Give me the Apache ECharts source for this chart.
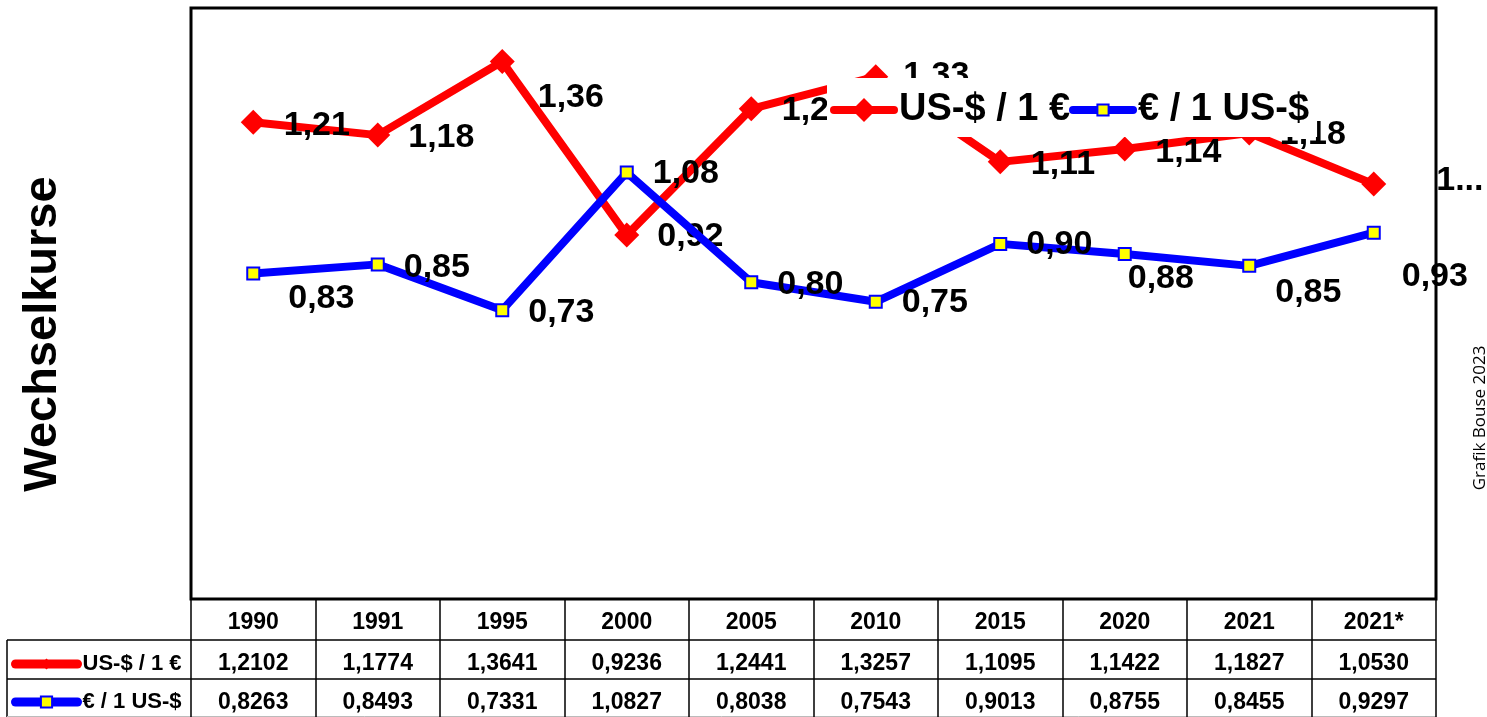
<!DOCTYPE html>
<html>
<head>
<meta charset="utf-8">
<script src="https://cdn.jsdelivr.net/npm/echarts@6/dist/echarts.min.js"></script>
<style>
html,body{margin:0;padding:0;background:#fff;}
#chart{width:1487px;height:717px;}
</style>
</head>
<body>
<div id="chart"></div>
<script>
// ---- data ----
const years = ['1990', '1991', '1995', '2000', '2005', '2010', '2015', '2020', '2021', '2021*'];
const usdPerEur = [1.2102, 1.1774, 1.3641, 0.9236, 1.2441, 1.3257, 1.1095, 1.1422, 1.1827, 1.0530];
const eurPerUsd = [0.8263, 0.8493, 0.7331, 1.0827, 0.8038, 0.7543, 0.9013, 0.8755, 0.8455, 0.9297];
const seriesNames = ['US-$ / 1 €', '€ / 1 US-$'];

// ---- label nudges (styling only) ----
const redNudge = [[0,3],[0,3],[5,36],[0,2],[0,2],[-3,-1],[0,3],[0,4],[0,2],[32,-3]];
const blueNudge = [[9,25],[0,3],[0,2],[0,1],[0,2],[0,1],[0,1],[-23,25],[0,27],[2,44]];

const FONT = '"Liberation Sans", Arial, sans-serif';
const fmt2 = v => v.toFixed(2).replace('.', ',');
const fmt4 = v => v.toFixed(4).replace('.', ',');

const chart = echarts.init(document.getElementById('chart'));

const redData = usdPerEur.map((v, i) => {
  const item = { value: v, label: { offset: redNudge[i] } };
  if (i === usdPerEur.length - 1) {
    item.label.width = 56;
    item.label.overflow = 'truncate';
  }
  return item;
});
const blueData = eurPerUsd.map((v, i) => ({ value: v, label: { offset: blueNudge[i] } }));

const bigLegendText = { fontSize: 38, fontWeight: 'bold', color: '#000', fontFamily: FONT };
const smallLegendText = { fontSize: 22, fontWeight: 'bold', color: '#000', fontFamily: FONT };

const option = {
  animation: false,
  backgroundColor: '#fff',
  textStyle: { fontFamily: FONT },
  grid: {
    left: 191, right: 51, top: 8, bottom: 118,
    show: true, borderColor: '#000', borderWidth: 3, backgroundColor: 'transparent'
  },
  legend: [
    {
      data: [seriesNames[0]],
      left: 827, top: 78,
      backgroundColor: '#fff',
      padding: [13, 2, 8, 3],
      itemWidth: 60, itemHeight: 30,
      lineStyle: { width: 8, cap: 'round' },
      textStyle: bigLegendText,
      z: 10
    },
    {
      data: [seriesNames[1]],
      left: 1066, top: 78,
      backgroundColor: '#fff',
      padding: [13, 8, 8, 3],
      itemWidth: 60, itemHeight: 14,
      lineStyle: { width: 8, cap: 'round' },
      textStyle: bigLegendText,
      z: 10
    },
    {
      data: [seriesNames[0]],
      left: 11, top: 653,
      padding: 0,
      itemWidth: 62, itemHeight: 14,
      lineStyle: { width: 9, cap: 'round' },
      textStyle: smallLegendText
    },
    {
      data: [seriesNames[1]],
      left: 11, top: 691,
      padding: 0,
      itemWidth: 62, itemHeight: 14,
      lineStyle: { width: 9, cap: 'round' },
      textStyle: smallLegendText
    }
  ],
  xAxis: {
    type: 'category',
    data: years,
    boundaryGap: true,
    axisLine: { show: false },
    axisTick: { show: true, interval: 0, length: 118, lineStyle: { color: '#000', width: 1.5 } },
    axisLabel: {
      interval: 0,
      margin: 4,
      formatter: (val, idx) => '{y|' + val + '}\n{a|' + fmt4(usdPerEur[idx]) + '}\n{b|' + fmt4(eurPerUsd[idx]) + '}',
      rich: {
        y: { fontSize: 23, fontWeight: 'bold', color: '#000', lineHeight: 40, fontFamily: FONT },
        a: { fontSize: 23, fontWeight: 'bold', color: '#000', lineHeight: 41, fontFamily: FONT },
        b: { fontSize: 23, fontWeight: 'bold', color: '#000', lineHeight: 37, fontFamily: FONT }
      }
    },
    splitLine: { show: false }
  },
  yAxis: {
    type: 'value',
    min: 0, max: 1.5,
    axisLine: { show: false },
    axisTick: { show: false },
    axisLabel: { show: false },
    splitLine: { show: false }
  },
  series: [
    {
      name: seriesNames[0],
      type: 'line',
      data: redData,
      color: '#ff0000',
      symbol: 'diamond',
      symbolSize: 25,
      lineStyle: { color: '#ff0000', width: 8 },
      itemStyle: { color: '#ff0000' },
      label: {
        show: true, position: 'right', distance: 18,
        formatter: p => fmt2(p.value),
        fontSize: 34, fontWeight: 'bold', color: '#000', fontFamily: FONT
      },
      z: 2
    },
    {
      name: seriesNames[1],
      type: 'line',
      data: blueData,
      color: '#0000ff',
      symbol: 'rect',
      symbolSize: 12,
      lineStyle: { color: '#0000ff', width: 8 },
      itemStyle: { color: '#ffff00', borderColor: '#0000ff', borderWidth: 2 },
      label: {
        show: true, position: 'right', distance: 19,
        formatter: p => fmt2(p.value),
        fontSize: 34, fontWeight: 'bold', color: '#000', fontFamily: FONT
      },
      z: 3
    }
  ],
  graphic: [
    { type: 'line', shape: { x1: 7, y1: 640, x2: 1436, y2: 640 }, style: { stroke: '#000', lineWidth: 1.5 }, silent: true },
    { type: 'line', shape: { x1: 7, y1: 679, x2: 1436, y2: 679 }, style: { stroke: '#000', lineWidth: 1.5 }, silent: true },
    { type: 'line', shape: { x1: 7, y1: 640, x2: 7, y2: 717 }, style: { stroke: '#000', lineWidth: 1.5 }, silent: true },
    { type: 'line', shape: { x1: 7, y1: 716.5, x2: 1436, y2: 716.5 }, style: { stroke: '#bbb', lineWidth: 1 }, silent: true },
    {
      type: 'text', x: 43, y: 334, rotation: Math.PI / 2,
      style: { text: 'Wechselkurse', font: 'bold 47px "Liberation Sans", Arial, sans-serif', fill: '#000', align: 'center', verticalAlign: 'middle' },
      silent: true
    },
    {
      type: 'text', x: 1480, y: 418, rotation: Math.PI / 2,
      style: { text: 'Grafik Bouse 2023', font: '17px "Open Sans", sans-serif', fill: '#000', align: 'center', verticalAlign: 'middle' },
      silent: true
    }
  ]
};
chart.setOption(option);
</script>
</body>
</html>
